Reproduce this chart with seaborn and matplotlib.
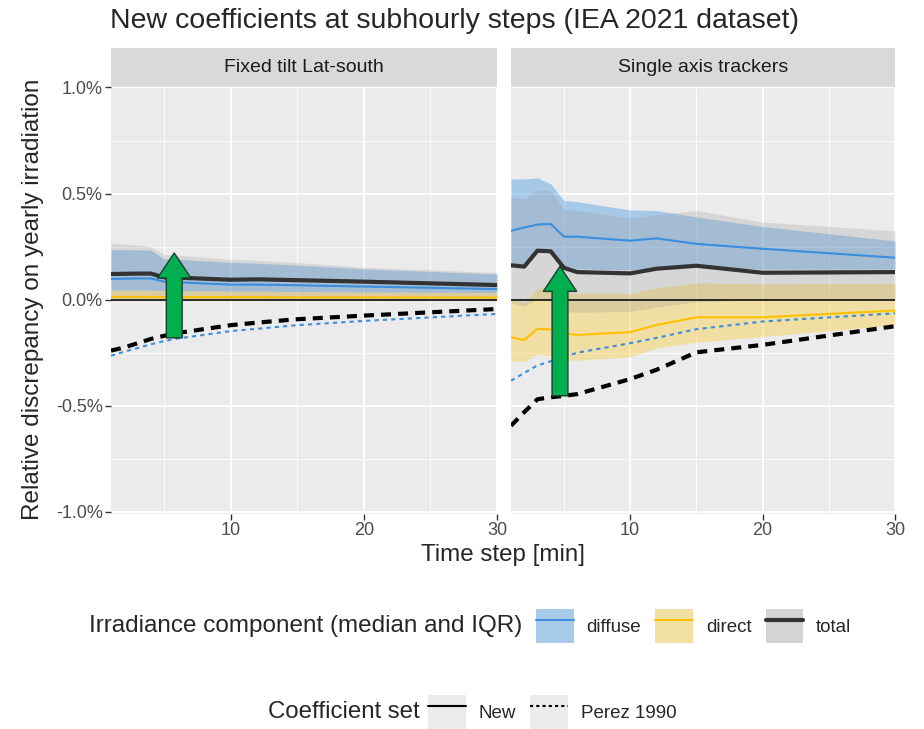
import numpy as np
import pandas as pd
import matplotlib
matplotlib.use("Agg")
import matplotlib.pyplot as plt
import seaborn as sns
from matplotlib.patches import Patch
from matplotlib.lines import Line2D
from matplotlib.legend_handler import HandlerTuple

# ---- data (percent) ----
steps = [1, 2, 3, 4, 5, 6, 10, 12, 15, 20, 30]
panels = ["Fixed tilt Lat-south", "Single axis trackers"]

# Fixed tilt Lat-south
fix_total_med = [0.121, 0.122, 0.123, 0.123, 0.105, 0.104, 0.094, 0.096, 0.092, 0.085, 0.069]
fix_total_q1 = [0.005, 0.005, 0.005, 0.005, 0.004, 0.004, 0.004, 0.004, 0.003, 0.003, 0.003]
fix_total_q3 = [0.266, 0.262, 0.258, 0.250, 0.212, 0.210, 0.190, 0.185, 0.175, 0.153, 0.128]
fix_diff_med = [0.098, 0.099, 0.100, 0.100, 0.085, 0.082, 0.071, 0.071, 0.068, 0.062, 0.050]
fix_diff_q1 = [0.045, 0.045, 0.045, 0.045, 0.043, 0.042, 0.040, 0.040, 0.038, 0.036, 0.034]
fix_diff_q3 = [0.236, 0.236, 0.235, 0.233, 0.192, 0.190, 0.176, 0.172, 0.163, 0.145, 0.121]
fix_dir_med = [0.013, 0.013, 0.013, 0.013, 0.012, 0.012, 0.012, 0.012, 0.011, 0.011, 0.010]
fix_dir_q1 = [-0.003, -0.003, -0.003, -0.003, -0.003, -0.003, -0.002, -0.002, -0.002, -0.002, -0.002]
fix_dir_q3 = [0.045, 0.045, 0.045, 0.044, 0.042, 0.042, 0.040, 0.040, 0.038, 0.036, 0.034]
fix_total_perez = [-0.240, -0.225, -0.205, -0.185, -0.170, -0.157, -0.120, -0.108, -0.092, -0.075, -0.044]
fix_diff_perez = [-0.264, -0.245, -0.228, -0.210, -0.195, -0.183, -0.148, -0.137, -0.120, -0.100, -0.067]

# Single axis trackers
trk_total_med = [0.162, 0.156, 0.231, 0.228, 0.150, 0.130, 0.124, 0.146, 0.160, 0.127, 0.130]
trk_total_q1 = [-0.015, -0.030, 0.000, 0.000, -0.055, -0.060, -0.055, -0.035, -0.010, 0.000, 0.000]
trk_total_q3 = [0.483, 0.475, 0.517, 0.515, 0.425, 0.420, 0.385, 0.400, 0.420, 0.366, 0.324]
trk_diff_med = [0.325, 0.340, 0.354, 0.357, 0.297, 0.297, 0.278, 0.289, 0.263, 0.240, 0.198]
trk_diff_q1 = [0.170, 0.170, 0.240, 0.240, 0.160, 0.145, 0.140, 0.150, 0.155, 0.144, 0.144]
trk_diff_q3 = [0.569, 0.569, 0.574, 0.546, 0.467, 0.462, 0.423, 0.420, 0.390, 0.345, 0.277]
trk_dir_med = [-0.177, -0.190, -0.138, -0.140, -0.158, -0.166, -0.153, -0.119, -0.083, -0.083, -0.051]
trk_dir_q1 = [-0.288, -0.292, -0.256, -0.264, -0.285, -0.285, -0.270, -0.228, -0.200, -0.174, -0.119]
trk_dir_q3 = [0.000, -0.015, 0.055, 0.055, 0.030, 0.030, 0.030, 0.055, 0.080, 0.074, 0.078]
trk_total_perez = [-0.594, -0.530, -0.469, -0.460, -0.453, -0.445, -0.374, -0.330, -0.248, -0.213, -0.125]
trk_diff_perez = [-0.382, -0.345, -0.310, -0.290, -0.270, -0.250, -0.205, -0.180, -0.139, -0.103, -0.064]

# annotation arrows: (x, y_tail, y_tip)
arrows = [(5.75, -0.18, 0.22), (4.7, -0.453, 0.157)]

# ---- long table ----
rows = []
src = {
    panels[0]: dict(total=(fix_total_med, fix_total_q1, fix_total_q3, fix_total_perez),
                    diffuse=(fix_diff_med, fix_diff_q1, fix_diff_q3, fix_diff_perez),
                    direct=(fix_dir_med, fix_dir_q1, fix_dir_q3, fix_dir_med)),
    panels[1]: dict(total=(trk_total_med, trk_total_q1, trk_total_q3, trk_total_perez),
                    diffuse=(trk_diff_med, trk_diff_q1, trk_diff_q3, trk_diff_perez),
                    direct=(trk_dir_med, trk_dir_q1, trk_dir_q3, trk_dir_med)),
}
for p, comps in src.items():
    for comp, (med, q1, q3, pz) in comps.items():
        for i, s in enumerate(steps):
            rows.append(dict(panel=p, comp=comp, step=s, med=med[i], q1=q1[i], q3=q3[i], perez=pz[i]))
df = pd.DataFrame(rows)

line_col = {"diffuse": "#3A8EDD", "direct": "#FFC000", "total": "#333333"}
fill_col = {"diffuse": "#56A0E6", "direct": "#F8CF4A", "total": "#999999"}
fill_alpha = {"diffuse": 0.45, "direct": 0.45, "total": 0.25}
lw = {"diffuse": 1.5, "direct": 1.5, "total": 3.0}

sns.set_theme(style="darkgrid", rc={
    "axes.facecolor": "#EBEBEB", "grid.color": "white",
    "axes.edgecolor": "#EBEBEB", "xtick.bottom": True, "ytick.left": True,
})
plt.rcParams["font.family"] = ["Liberation Sans", "DejaVu Sans"]

fig = plt.figure(figsize=(9.24, 7.29), dpi=100)
W, H = 924, 729
def box(l, t, r, b):
    return [l / W, 1 - b / H, (r - l) / W, (b - t) / H]

axes = [fig.add_axes(box(111, 87.5, 497, 514)), fig.add_axes(box(511, 87.5, 895, 514))]

for ax, p in zip(axes, panels):
    d = df[df.panel == p]
    for comp in ["diffuse", "direct", "total"]:
        c = d[d.comp == comp]
        ax.fill_between(c.step, c.q1, c.q3, color=fill_col[comp], alpha=fill_alpha[comp],
                        lw=0, zorder=2)
    ax.axhline(0, color="#1A1A1A", lw=1.3, zorder=3)
    for comp in ["direct", "diffuse", "total"]:
        c = d[d.comp == comp]
        sns.lineplot(data=c, x="step", y="med", ax=ax, color=line_col[comp], lw=lw[comp],
                     legend=False, zorder=4)
    c = d[d.comp == "diffuse"]
    sns.lineplot(data=c, x="step", y="perez", ax=ax, color=line_col["diffuse"], lw=1.5,
                 legend=False, zorder=5).lines[-1].set_dashes([2, 2])
    c = d[d.comp == "total"]
    sns.lineplot(data=c, x="step", y="perez", ax=ax, color="black", lw=3.0,
                 legend=False, zorder=6).lines[-1].set_dashes([2.4, 1.7])

    ax.set_xlim(1, 30)
    ax.set_ylim(-1.01, 1.0)
    ax.set_xticks([10, 20, 30])
    ax.set_xticks([5, 15, 25], minor=True)
    ax.set_yticks([-1.0, -0.5, 0.0, 0.5, 1.0])
    ax.set_yticks([-0.75, -0.25, 0.25, 0.75], minor=True)
    ax.grid(True, which="major", color="white", lw=1.3)
    ax.grid(True, which="minor", color="white", lw=0.6)
    ax.tick_params(which="major", length=4, width=1, color="#333333", labelcolor="#4D4D4D",
                   labelsize=13, pad=2)
    ax.tick_params(which="minor", length=0)
    ax.set_xlabel("")
    ax.set_ylabel("")
    for sp in ax.spines.values():
        sp.set_visible(False)

axes[0].set_yticklabels(["-1.0%", "-0.5%", "0.0%", "0.5%", "1.0%"])
axes[1].tick_params(axis="y", labelleft=False, length=0)

# arrows
for ax, (x, y0, y1) in zip(axes, arrows):
    ax.annotate("", xy=(x, y1), xytext=(x, y0),
                arrowprops=dict(arrowstyle="simple,head_length=1.5,head_width=2.0,tail_width=0.95",
                                fc="#00B050", ec="#1E3A2A", lw=1.0, shrinkA=0, shrinkB=0),
                zorder=8)

# strips
for (l, r), p in zip([(111, 497), (511, 895)], panels):
    sax = fig.add_axes(box(l, 48, r, 87))
    sax.set_facecolor("#D9D9D9")
    sax.set_xticks([]); sax.set_yticks([])
    for sp in sax.spines.values():
        sp.set_visible(False)
    sax.text(0.5, 0.5, p, ha="center", va="center", fontsize=14, color="#1A1A1A",
             transform=sax.transAxes)

fig.text(110 / W, 1 - 21 / H, "New coefficients at subhourly steps (IEA 2021 dataset)",
         fontsize=20.5, va="center", ha="left")
fig.text(33 / W, 1 - 299 / H, "Relative discrepancy on yearly irradiation", rotation=90,
         fontsize=17.5, va="center", ha="center")
fig.text(503 / W, 1 - 555 / H, "Time step [min]", fontsize=17.4, va="center", ha="center")

# legend 1
h1 = [(Patch(fc="#A9CBEB", ec="none"), Line2D([], [], color=line_col["diffuse"], lw=1.5)),
      (Patch(fc="#F2DFA2", ec="none"), Line2D([], [], color=line_col["direct"], lw=1.5)),
      (Patch(fc="#D4D4D4", ec="none"), Line2D([], [], color=line_col["total"], lw=3))]
fig.text(522 / W, 1 - 626 / H, "Irradiance component (median and IQR)", fontsize=17.5,
         ha="right", va="center")
fig.legend(h1, ["diffuse", "direct", "total"],
           handler_map={tuple: HandlerTuple(ndivide=1, pad=0)},
           loc="center left", bbox_to_anchor=(536 / W, 1 - 626 / H), ncol=3, frameon=False,
           fontsize=13.5, handlelength=2.0, handleheight=2.45, handletextpad=0.7,
           columnspacing=0.75, borderpad=0, borderaxespad=0)

# legend 2
h2 = [(Patch(fc="#EBEBEB", ec="none"), Line2D([], [], color="black", lw=1.5)),
      (Patch(fc="#EBEBEB", ec="none"), Line2D([], [], color="black", lw=1.5, ls=(0, (1.5, 1.5))))]
fig.text(420 / W, 1 - 712 / H, "Coefficient set", fontsize=17.3, ha="right", va="center")
fig.legend(h2, ["New", "Perez 1990"], handler_map={tuple: HandlerTuple(ndivide=1, pad=0)},
           loc="center left", bbox_to_anchor=(428 / W, 1 - 712 / H), ncol=2, frameon=False,
           fontsize=13.5, handlelength=2.0, handleheight=2.45, handletextpad=0.7,
           columnspacing=0.75, borderpad=0, borderaxespad=0)

fig.savefig("out.png", dpi=100, facecolor="white")
